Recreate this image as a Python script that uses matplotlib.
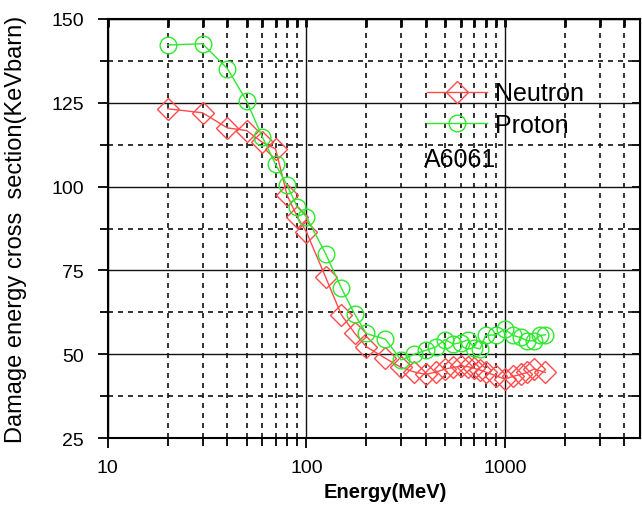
import numpy as np
import matplotlib
matplotlib.use("Agg")
import matplotlib.pyplot as plt
from matplotlib.ticker import LogLocator, FixedLocator, NullFormatter, FixedFormatter

plt.rcParams['font.family'] = ['Liberation Sans', 'DejaVu Sans']

# data
neutron_e = [20, 30, 40, 50, 60, 70, 80, 90, 100, 125, 150, 175, 200, 250, 300, 350,
             400, 450, 500, 550, 600, 650, 700, 750, 800, 900, 1000, 1100, 1200, 1300,
             1400, 1600]
neutron = [123.2, 122.0, 117.5, 116.7, 113.2, 111.2, 97.4, 91.0, 86.5, 73.0, 61.8, 56.3,
           52.3, 48.8, 46.1, 44.7, 44.0, 44.7, 45.6, 46.1, 46.4, 46.3, 45.8, 45.3, 44.7,
           43.6, 42.6, 43.4, 44.0, 44.6, 45.6, 44.6]

proton_e = [20, 30, 40, 50, 60, 70, 80, 90, 100, 125, 150, 175, 200, 250, 300, 350, 400,
            450, 500, 550, 600, 650, 700, 750, 800, 900, 1000, 1100, 1200, 1300, 1400,
            1500, 1600]
proton = [142.2, 142.6, 135.2, 125.5, 114.8, 106.6, 100.4, 93.9, 91.0, 80.0, 69.8, 62.0,
          56.2, 54.5, 48.3, 50.0, 51.2, 52.2, 54.4, 53.0, 53.5, 54.3, 52.0, 51.6, 55.6,
          55.8, 57.5, 55.6, 55.0, 54.0, 54.0, 55.6, 55.8]

fig = plt.figure(figsize=(6.42, 5.10), dpi=100)
ax = fig.add_axes([0.168, 0.139, 0.829, 0.822])

ax.plot(neutron_e, neutron, color='#ff4b4b', lw=1, marker='D', ms=11, mfc='none',
        mec='#ff4b4b', mew=1, label='Neutron')
ax.plot(proton_e, proton, color='#2ee82e', lw=1, marker='o', ms=12, mfc='none',
        mec='#2ee82e', mew=1, label='Proton')

ax.set_xscale('log')
ax.set_xlim(10, 4800)
ax.set_ylim(25, 150)

ax.xaxis.set_major_locator(FixedLocator([10, 100, 1000]))
ax.xaxis.set_major_formatter(FixedFormatter(['10', '100', '1000']))
ax.xaxis.set_minor_locator(LogLocator(base=10, subs=np.arange(2, 10)))
ax.xaxis.set_minor_formatter(NullFormatter())
ax.set_yticks([25, 50, 75, 100, 125, 150])
ax.set_yticks([37.5, 62.5, 87.5, 112.5, 137.5], minor=True)

ax.grid(which='major', color='#111111', lw=1, ls='-')
ax.grid(which='minor', color='#111111', lw=1.2, ls=(0, (3, 3)))

ax.tick_params(which='both', direction='out', labelsize=14, width=1.3)
ax.tick_params(which='major', length=7)
ax.tick_params(which='minor', length=6)
ax.tick_params(axis='x', pad=8)
ax.tick_params(axis='y', pad=10)
for s in ax.spines.values():
    s.set_linewidth(1.5)

# top and right inward ticks
axt = ax.secondary_xaxis('top')
axt.set_xticks([10, 100, 1000])
axt.xaxis.set_minor_locator(LogLocator(base=10, subs=np.arange(2, 10)))
axt.tick_params(which='both', direction='in', length=6, width=2, labeltop=False)
axt.xaxis.set_minor_formatter(NullFormatter())
axt.set_xticklabels([])
axr = ax.secondary_yaxis('right')
axr.set_yticks([25, 50, 75, 100, 125, 150])
axr.set_yticks([37.5, 62.5, 87.5, 112.5, 137.5], minor=True)
axr.tick_params(which='both', direction='in', length=6, width=1.3, labelright=False)
axr.set_yticklabels([])

ax.set_xlabel('Energy(MeV)', fontsize=14.5, fontweight='bold')
ax.xaxis.set_label_coords(0.521, -0.105)
ax.set_ylabel('Damage energy cross  section(KeVbarn)', fontsize=17)
ax.yaxis.set_label_coords(-0.152, 0.5)

leg = ax.legend(loc='upper left', bbox_to_anchor=(0.6, 0.851), frameon=False,
                fontsize=18, handlelength=2.4, handletextpad=0.32, labelspacing=0.3,
                borderaxespad=0, borderpad=0)
ax.text(0.594, 0.666, 'A6061', transform=ax.transAxes, fontsize=18, va='center')

fig.savefig('out.png', dpi=100)
